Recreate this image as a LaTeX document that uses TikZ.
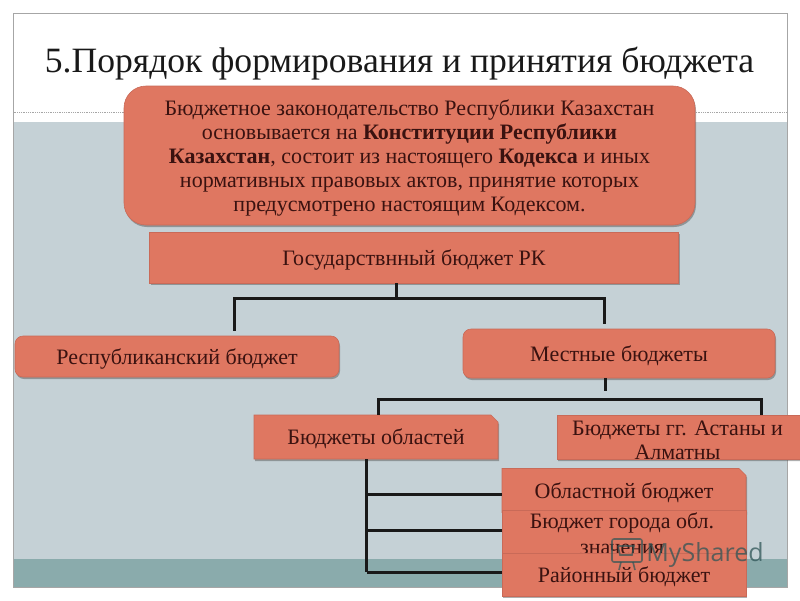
\documentclass[tikz,border=0pt]{standalone}
\usepackage{fontspec}
\setmainfont{Liberation Serif}
\newfontfamily\wmfont{Open Sans}
\usetikzlibrary{shapes.misc, shadows}
\definecolor{slidegray}{HTML}{C5D1D6}
\definecolor{slideteal}{HTML}{8AABAC}
\definecolor{boxfill}{HTML}{DF7761}
\definecolor{boxline}{HTML}{C96A58}
\definecolor{boxtext}{HTML}{3A1210}
\definecolor{markcol}{HTML}{2F5557}
\tikzset{
    boxbase/.style={fill=boxfill, draw=boxline, line width=0.6pt, text=boxtext, align=center,
        inner sep=0pt, font=\fontsize{22}{24}\selectfont,
        drop shadow={shadow xshift=1pt, shadow yshift=-2pt, opacity=0.45, fill=black!70}},
    oneline/.style={text height=18pt, text depth=3pt},
    plainbox/.style={boxbase, rectangle},
    softbox/.style={boxbase, rectangle, rounded corners=8pt},
    snipbox/.style={boxbase, chamfered rectangle, chamfered rectangle corners=north east,
        chamfered rectangle xsep=3.5pt, chamfered rectangle ysep=3.5pt},
    tree/.style={line width=3pt, black!90, line cap=butt},
    markline/.style={draw=markcol, line width=1.6pt, opacity=0.7}
}
\begin{document}
\begin{tikzpicture}[x=1pt, y=-1pt]
    \useasboundingbox (0, 0) rectangle (800, 600);

    % slide background
    \fill[white] (0, 0) rectangle (800, 600);
    \fill[slidegray] (13.5, 122) rectangle (787, 559);
    \fill[slideteal] (13.5, 559) rectangle (787, 587);
    \draw[black!35, line width=0.8pt] (13.5, 13.5) rectangle (787, 587);
    \draw[black!35, densely dotted, line width=0.8pt] (13.5, 112) -- (787, 112);

    \node[font=\fontsize{35.6}{40}\selectfont, text=black!90] (title) at (399.5, 64) {5.Порядок формирования и принятия бюджета};

    % free ends of the tree lines
    \coordinate (govjoin) at (396, 298);
    \coordinate (repdrop) at (234.5, 298);
    \coordinate (locdrop) at (604, 298);
    \coordinate (locjoin) at (605, 399);
    \coordinate (oblin) at (378, 399);
    \coordinate (astin) at (761, 399);
    \coordinate (obljoin1) at (366.5, 494);
    \coordinate (obljoin2) at (366.5, 530);
    \coordinate (obljoin3) at (366.5, 572);

    \node[softbox, rounded corners=22pt, minimum width=571pt, minimum height=139pt] (law) at (409.5, 155.5) {\rule{0pt}{20pt}Бюджетное законодательство  Республики Казахстан\\
        основывается на \textbf{Конституции Республики}\\
        \textbf{Казахстан}, состоит из настоящего \textbf{Кодекса} и иных\\
        нормативных правовых актов, принятие которых\\
        предусмотрено настоящим Кодексом.};
    \node[plainbox, oneline, minimum width=529pt, minimum height=51pt] (gov) at (414, 257.5) {Государствнный бюджет РК};
    \node[softbox, oneline, minimum width=324pt, minimum height=41pt] (rep) at (177, 356.5) {Республиканский бюджет};
    \node[softbox, oneline, minimum width=312pt, minimum height=49pt] (loc) at (619, 353.5) {Местные бюджеты};

    % tree lines
    \draw[tree] (gov.south -| govjoin) -- (govjoin);
    \draw[tree, shorten >=5pt] (locdrop) -- (repdrop) -- (rep.north -| repdrop);
    \draw[tree, shorten >=5pt] (repdrop) -- (locdrop) -- (loc.north -| locdrop);

    \node[snipbox, oneline, minimum width=244pt, minimum height=44pt] (obl) at (376, 437) {Бюджеты областей};
    \node[snipbox, minimum width=243pt, minimum height=44pt] (ast) at (678.5, 437) {};
    \node[text=boxtext, align=center, font=\fontsize{22}{24}\selectfont] (asttext) at (677.5, 440) {Бюджеты гг. Астаны и\\Алматны};

    \draw[tree] (loc.south -| locjoin) -- ([yshift=8pt]locjoin);
    \draw[tree] (obl.north -| oblin) -- (oblin) -- (astin) -- (ast.north -| astin);

    \draw[tree] (obl.south -| obljoin1) -- (obljoin3);

    \node[snipbox, oneline, minimum width=244pt, minimum height=44pt] (oblast) at (624, 490.5) {Областной бюджет};
    \node[snipbox, minimum width=244pt, minimum height=43pt] (city) at (624, 531.5) {};
    \node[text=boxtext, align=center, font=\fontsize{22}{26}\selectfont] (citytext) at (622, 534) {Бюджет города обл.\\значения};
    \node[plainbox, oneline, minimum width=244pt, minimum height=43pt] (dist) at (624, 574.5) {Районный бюджет};

    \draw[tree] (obljoin1) -- (oblast.west |- obljoin1);
    \draw[tree] (obljoin2) -- (city.west |- obljoin2);
    \draw[tree] (obljoin3) -- (dist.west |- obljoin3);

    % watermark
    \draw[markline, rounded corners=2pt] (612, 539) rectangle (642, 562);
    \draw[markline] (618, 546) -- (634, 546) -- (632, 555) -- (620, 555) -- (618, 546);
    \draw[markline] (621, 562) -- (619, 570);
    \draw[markline] (633, 562) -- (635, 570);
    \node[text=markcol, opacity=0.75, font=\wmfont\fontsize{25}{28}\selectfont] (mark) at (705, 555) {MyShared};
\end{tikzpicture}
\end{document}
